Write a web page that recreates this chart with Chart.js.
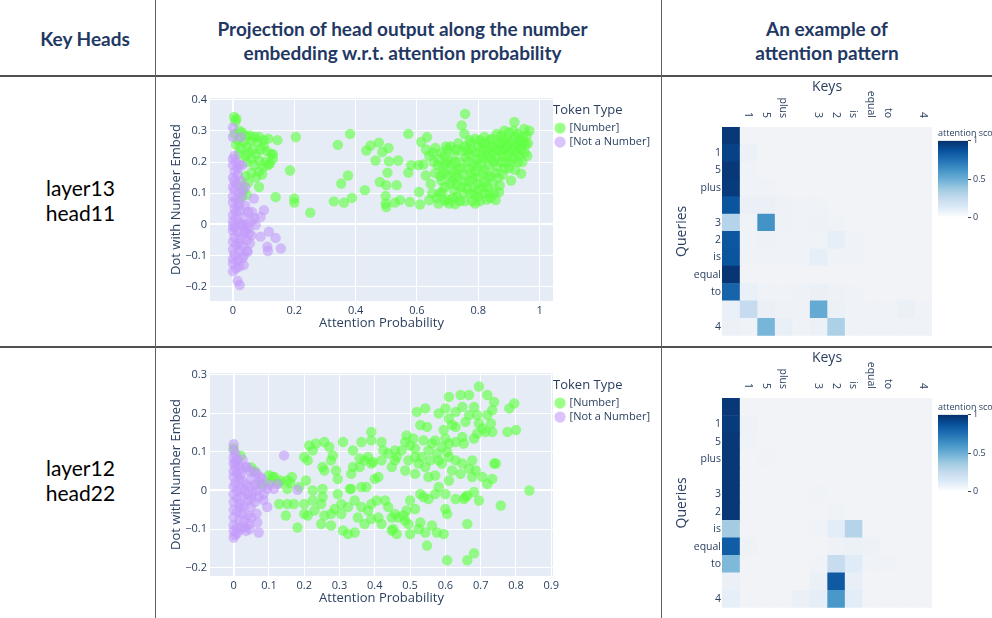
<!DOCTYPE html>
<html>
<head>
<meta charset="utf-8">
<script src="https://cdn.jsdelivr.net/npm/chart.js@4.4.1/dist/chart.umd.min.js"></script>
<style>
body { margin: 0; background: #fff; }
#page { position: relative; width: 992px; height: 618px; overflow: hidden; font-family: Lato, "Open Sans", sans-serif; }
.hline { position: absolute; left: 0; width: 992px; height: 2px; background: #505050; }
.vline { position: absolute; top: 0; width: 1px; height: 618px; background: #606060; }
.head { position: absolute; color: #1f3864; font-weight: bold; font-size: 19px; line-height: 24px; text-align: center; }
.rowlab { position: absolute; left: 3px; width: 155px; text-align: center; font-size: 21px; line-height: 25px; color: #000; }
canvas { position: absolute; }
</style>
</head>
<body>
<div id="page">
  <div class="head" style="left:0;width:170px;top:27px;">Key Heads</div>
  <div class="head" style="left:150px;width:505px;top:17px;">Projection of head output along the number<br>embedding w.r.t. attention probability</div>
  <div class="head" style="left:662px;width:330px;top:17px;">An example of<br>attention pattern</div>
  <div class="rowlab" style="top:175px;">layer13<br>head11</div>
  <div class="rowlab" style="top:455px;">layer12<br>head22</div>

  <canvas id="sc1" width="500" height="248" style="left:160px;top:88px;"></canvas>
  <canvas id="sc2" width="500" height="248" style="left:160px;top:363px;"></canvas>
  <canvas id="hm1" width="275" height="265" style="left:662px;top:78px;"></canvas>
  <canvas id="hm2" width="275" height="266" style="left:662px;top:349px;"></canvas>
  <canvas id="cb1" width="110" height="98" style="left:930px;top:127px;"></canvas>
  <canvas id="cb2" width="110" height="98" style="left:930px;top:401px;"></canvas>

  <div class="hline" style="top:75px;"></div>
  <div class="hline" style="top:346px;"></div>
  <div class="vline" style="left:155px;"></div>
  <div class="vline" style="left:661px;"></div>
</div>
<script>
// tokens of the example prompt
const keys = ['', '1', '5', 'plus', '', '3', '2', 'is', 'equal', 'to', '', '4'];
const queries = ['', '1', '5', 'plus', '', '3', '2', 'is', 'equal', 'to', '', '4'];

// layer13 head11 : [attention probability, dot with number embed]
const numberTop = [
  [0.004,0.344],[0.011,0.338],[0.008,0.33],[0.02,0.3],[0.005,0.29],[0.03,0.295],[0.04,0.285],[0.055,0.285],
  [0.07,0.28],[0.085,0.28],[0.1,0.27],[0.115,0.275],[0.06,0.27],[0.015,0.27],[0.035,0.265],[0.08,0.265],
  [0.1,0.25],[0.01,0.255],[0.025,0.245],[0.045,0.25],[0.065,0.24],[0.09,0.24],[0.11,0.235],[0.125,0.225],
  [0.13,0.21],[0.12,0.195],[0.105,0.2],[0.085,0.205],[0.06,0.21],[0.04,0.22],[0.02,0.225],[0.045,0.2],
  [0.07,0.19],[0.1,0.185],[0.085,0.17],[0.06,0.165],[0.04,0.155],[0.075,0.15],[0.095,0.16],[0.05,0.135],
  [0.03,0.125],[0.085,0.12],[0.035,0.11],[0.045,0.095],[0.025,0.085],[0.115,0.19],[0.13,0.225],[0.05,0.23],
  [0.075,0.225],
  [0.205,0.28],[0.186,0.173],[0.145,0.27],[0.139,0.088],[0.2,0.083],[0.2,0.07],[0.252,0.038],[0.329,0.074],
  [0.342,0.255],[0.353,0.131],[0.362,0.07],[0.375,0.157],[0.382,0.29],[0.388,0.085],[0.43,0.11],[0.435,0.237],
  [0.449,0.253],[0.465,0.205],[0.476,0.262],[0.479,0.136],[0.487,0.232],[0.5,0.126],[0.507,0.245],[0.509,0.202],
  [0.504,0.166],[0.498,0.091],[0.498,0.067],[0.5,0.056],[0.528,0.07],[0.534,0.126],[0.539,0.205],[0.545,0.078],
  [0.572,0.29],[0.572,0.166],[0.577,0.072],[0.581,0.19],[0.605,0.19],[0.607,0.104],[0.61,0.064],[0.614,0.264],
  [0.621,0.192],[0.633,0.28],[0.629,0.157],
  [0.63,0.24],[0.64,0.22],[0.645,0.13],[0.65,0.1],[0.64,0.078],[0.655,0.2],[0.66,0.245],[0.66,0.165],[0.665,0.085],
  [0.67,0.067],[0.675,0.1],[0.68,0.14],[0.685,0.185],[0.69,0.22],[0.695,0.25],[0.7,0.24],[0.67,0.21],[0.68,0.23],
  [0.7,0.08],[0.705,0.067],[0.69,0.12],[0.7,0.16],[0.695,0.195],
  [0.71,0.25],[0.72,0.225],[0.725,0.2],[0.73,0.175],[0.715,0.14],[0.72,0.11],[0.73,0.09],[0.74,0.075],[0.745,0.12],
  [0.75,0.16],[0.74,0.2],[0.745,0.235],[0.735,0.26],[0.755,0.29],[0.746,0.317],[0.757,0.354],[0.755,0.25],[0.76,0.215],
  [0.725,0.065],[0.715,0.17],[0.735,0.15],
  [0.765,0.18],[0.77,0.14],[0.775,0.1],[0.78,0.075],[0.785,0.12],[0.79,0.17],[0.795,0.21],[0.8,0.25],[0.79,0.275],
  [0.805,0.27],[0.78,0.24],[0.77,0.225],[0.79,0.067],[0.8,0.09],[0.8,0.15],[0.81,0.195],[0.785,0.195],[0.775,0.26],
  [0.815,0.24],[0.82,0.28],[0.825,0.26],[0.83,0.22],[0.835,0.19],[0.84,0.155],[0.83,0.12],[0.82,0.1],[0.84,0.085],
  [0.845,0.23],[0.85,0.25],[0.85,0.2],[0.855,0.165],[0.845,0.275],[0.815,0.165],[0.82,0.135],[0.857,0.078],[0.835,0.245],
  [0.86,0.29],[0.865,0.26],[0.87,0.235],[0.875,0.2],[0.868,0.104],[0.87,0.125],[0.88,0.27],[0.885,0.3],[0.89,0.245],
  [0.895,0.22],[0.9,0.295],[0.9,0.18],[0.88,0.16],[0.89,0.2],[0.86,0.215],[0.875,0.285],[0.9,0.26],
  [0.907,0.141],[0.91,0.27],[0.915,0.3],[0.918,0.328],[0.92,0.25],[0.925,0.23],[0.93,0.2],[0.935,0.27],[0.94,0.163],
  [0.94,0.24],[0.945,0.28],[0.95,0.306],[0.955,0.255],[0.96,0.22],[0.967,0.3],[0.93,0.29],[0.92,0.175],
  [0.652,0.23],[0.668,0.19],[0.676,0.155],[0.683,0.105],[0.692,0.075],[0.708,0.13],[0.712,0.195],[0.718,0.085],
  [0.728,0.24],[0.732,0.125],[0.742,0.18],[0.752,0.1],[0.758,0.135],[0.762,0.24],[0.768,0.2],[0.772,0.27],
  [0.782,0.15],[0.788,0.095],[0.792,0.23],[0.798,0.13],[0.806,0.075],[0.808,0.22],[0.812,0.26],[0.818,0.21],
  [0.822,0.175],[0.828,0.08],[0.832,0.15],[0.838,0.27],[0.842,0.21],[0.848,0.13],[0.852,0.1],[0.858,0.24],
  [0.862,0.185],[0.866,0.15],[0.872,0.26],[0.878,0.22],[0.882,0.24],[0.886,0.18],[0.892,0.275],[0.896,0.25],
  [0.902,0.23],[0.906,0.2],[0.912,0.24],[0.916,0.21],[0.922,0.28],[0.928,0.255],[0.932,0.22],[0.938,0.25],
  [0.944,0.2],[0.948,0.265],[0.952,0.23],[0.958,0.285],[0.962,0.26],[0.7,0.205],[0.688,0.165],[0.724,0.15],
  [0.756,0.075],[0.764,0.115],[0.776,0.165],[0.796,0.185],[0.802,0.11],[0.814,0.12],[0.826,0.235],[0.836,0.1]
];
const otherTop = [
  [0.0,0.31],[0.0,0.28],[0.025,0.28],[0.005,0.22],[0.0,0.21],[0.01,0.2],[0.0,0.19],[0.02,0.19],[0.03,0.19],
  [0.005,0.17],[0.015,0.16],[0.0,0.15],[0.01,0.13],[0.025,0.14],[0.0,0.12],[0.005,0.11],[0.02,0.1],[0.0,0.09],
  [0.01,0.08],[0.03,0.09],[0.0,0.07],[0.015,0.06],[0.04,0.06],[0.005,0.05],[0.025,0.045],[0.0,0.03],[0.01,0.02],
  [0.035,0.025],[0.05,0.04],[0.0,0.01],[0.02,0.005],[0.005,-0.01],[0.03,-0.005],[0.045,0.0],[0.0,-0.02],
  [0.015,-0.025],[0.035,-0.03],[0.005,-0.04],[0.025,-0.045],[0.0,-0.055],[0.045,-0.05],[0.01,-0.065],[0.03,-0.07],
  [0.0,-0.08],[0.02,-0.085],[0.045,-0.085],[0.005,-0.095],[0.035,-0.1],[0.0,-0.11],[0.015,-0.115],[0.03,-0.108],
  [0.0,-0.125],[0.02,-0.135],[0.035,-0.13],[0.0,-0.15],[0.01,-0.14],[0.015,-0.181],[0.022,-0.194],[0.068,0.083],
  [0.062,0.04],[0.074,-0.002],[0.052,-0.029],[0.048,-0.087],[0.09,-0.039],[0.101,0.046],[0.09,0.024],
  [0.112,-0.071],[0.114,-0.085],[0.117,-0.023],[0.139,-0.043],[0.156,-0.077],[0.06,0.01],[0.055,-0.06],
  [0.07,0.02],[0.04,0.12],[0.02,0.07],[0.01,0.04],[0.0,-0.005],[0.03,0.0],[0.02,-0.06],[0.04,-0.02],[0.05,-0.01],
  [0.06,-0.035],[0.015,0.18],[0.005,0.14],[0.03,0.11]
];

// layer12 head22
const numberBottom = [
  [0.0,0.11],[0.02,0.09],[0.05,0.06],[0.06,0.05],[0.1,0.04],[0.115,0.035],[0.13,0.02],[0.16,0.02],[0.165,0.035],
  [0.695,0.27],[0.643,0.248],[0.667,0.248],[0.719,0.248],[0.738,0.23],[0.781,0.213],[0.795,0.226],[0.8,0.157],
  [0.61,0.243],[0.6,0.213],[0.581,0.2],[0.543,0.213],[0.519,0.204],[0.548,0.165],[0.529,0.17],[0.619,0.17],
  [0.629,0.165],[0.667,0.196],[0.681,0.217],[0.69,0.196],[0.719,0.196],[0.729,0.174],[0.733,0.209],[0.69,0.148],
  [0.681,0.135],[0.652,0.122],[0.629,0.126],[0.6,0.135],[0.59,0.113],[0.605,0.1],[0.576,0.096],[0.552,0.104],
  [0.533,0.087],[0.514,0.087],[0.495,0.078],[0.486,0.126],[0.49,0.143],[0.476,0.104],[0.462,0.087],[0.448,0.061],
  [0.438,0.096],[0.424,0.104],[0.419,0.126],[0.39,0.152],[0.39,0.13],[0.362,0.126],[0.338,0.104],[0.357,0.083],
  [0.338,0.061],[0.333,0.043],[0.31,0.126],[0.281,0.091],[0.276,0.078],[0.257,0.126],[0.233,0.122],[0.214,0.117],
  [0.224,0.104],[0.2,0.087],[0.252,0.061],[0.257,0.052],[0.29,0.052],[0.295,0.03],[0.271,0.113],
  [0.381,0.087],[0.4,0.03],[0.362,0.009],[0.376,0.009],[0.333,0.004],[0.41,0.035],[0.457,0.078],[0.486,0.052],
  [0.514,0.043],[0.524,0.07],[0.543,0.061],[0.552,0.035],[0.571,0.039],[0.59,0.07],[0.61,0.087],[0.629,0.078],
  [0.648,0.07],[0.667,0.057],[0.676,0.035],[0.705,0.035],[0.719,0.017],[0.733,0.03],[0.738,0.07],[0.743,0.07],
  [0.838,0.0],[0.757,-0.039],[0.695,-0.026],[0.681,-0.004],[0.662,-0.013],[0.652,-0.022],[0.629,-0.022],
  [0.61,0.026],[0.6,-0.009],[0.6,-0.048],[0.605,-0.061],[0.595,-0.113],[0.576,-0.109],[0.562,-0.091],
  [0.552,-0.022],[0.538,-0.017],[0.529,-0.009],[0.514,-0.048],[0.5,-0.026],[0.49,-0.052],[0.481,-0.065],
  [0.467,-0.07],[0.457,-0.061],[0.452,-0.1],[0.448,-0.104],[0.5,-0.113],[0.524,-0.1],[0.543,-0.109],
  [0.548,-0.143],[0.605,-0.181],[0.662,-0.181],[0.681,-0.163],[0.662,-0.087],[0.657,-0.017],[0.448,-0.07],
  [0.438,-0.043],[0.429,-0.026],[0.405,-0.026],[0.39,-0.035],[0.381,-0.052],[0.39,-0.074],[0.371,-0.087],
  [0.352,-0.07],[0.343,-0.026],[0.329,0.004],[0.305,-0.035],[0.286,-0.048],[0.305,-0.061],[0.31,-0.104],
  [0.324,-0.113],[0.343,-0.109],[0.276,-0.061],[0.257,-0.065],[0.248,-0.035],[0.252,-0.017],[0.252,0.004],
  [0.224,0.0],[0.224,-0.026],[0.2,-0.035],[0.2,-0.061],[0.21,-0.065],[0.181,-0.096],[0.171,-0.035],
  [0.152,-0.035],[0.148,-0.065],[0.129,-0.035],[0.152,0.004],[0.152,0.026],[0.133,0.026],[0.11,0.035],
  [0.105,0.022],[0.086,0.017],[0.076,0.017],[0.21,0.078],[0.205,0.026],[0.186,0.009],[0.276,-0.091],
  [0.248,-0.087],[0.229,-0.052],[0.295,-0.009],[0.324,-0.043],[0.362,-0.043],[0.41,-0.07],[0.419,-0.087],
  [0.462,-0.113],[0.486,-0.078],[0.495,-0.087],[0.529,-0.083],[0.571,-0.009],[0.581,0.009],[0.619,0.052],
  [0.643,0.043],[0.676,0.078],[0.686,0.052],[0.571,0.13],[0.557,0.078],[0.581,0.078],[0.61,0.122],
  [0.457,0.104],[0.419,0.078],[0.395,0.074],[0.371,0.078],[0.357,0.061],[0.39,0.07],
  [0.648,0.139],[0.705,0.161],[0.776,0.152],[0.733,0.152],[0.714,0.152],[0.61,0.187],[0.629,0.204],
  [0.648,0.217],[0.657,0.178],[0.695,0.174],[0.595,0.157],[0.562,0.122],[0.538,0.13],[0.514,0.109],
  [0.5,0.117],[0.509,0.135]
];
const otherBottom = [
  [0.0,0.12],[0.0,0.105],[0.005,0.095],[0.0,0.085],[0.01,0.08],[0.0,0.07],[0.005,0.06],[0.015,0.065],
  [0.0,0.05],[0.01,0.045],[0.02,0.055],[0.035,0.06],[0.038,0.061],[0.057,0.048],[0.05,0.03],[0.0,0.035],
  [0.005,0.02],[0.015,0.03],[0.025,0.025],[0.035,0.015],[0.0,0.01],[0.01,0.0],[0.02,0.005],[0.03,0.0],
  [0.045,0.01],[0.06,0.015],[0.071,0.022],[0.076,0.035],[0.095,0.004],[0.114,0.004],[0.124,0.017],
  [0.143,0.091],[0.181,0.002],[0.0,-0.01],[0.01,-0.02],[0.025,-0.015],[0.04,-0.01],[0.055,-0.005],
  [0.071,-0.017],[0.0,-0.03],[0.015,-0.035],[0.03,-0.04],[0.048,-0.043],[0.095,-0.043],[0.06,-0.03],
  [0.0,-0.05],[0.01,-0.055],[0.025,-0.06],[0.04,-0.065],[0.0,-0.07],[0.015,-0.075],[0.03,-0.08],
  [0.043,-0.087],[0.067,-0.083],[0.0,-0.09],[0.01,-0.095],[0.019,-0.1],[0.035,-0.105],[0.0,-0.105],
  [0.071,-0.109],[0.0,-0.122],[0.005,-0.115],[0.08,0.01],[0.085,-0.01],[0.065,0.0],[0.05,-0.02],
  [0.02,0.04],[0.005,0.075],[0.025,0.08],[0.045,0.05],[0.065,0.045],[0.08,0.03],[0.1,0.015],[0.085,-0.025],
  [0.04,-0.025],[0.02,-0.045],[0.05,-0.07],[0.065,-0.06],[0.01,-0.11],[0.03,-0.095],[0.045,-0.1]
];

// attention score, rows = queries, columns = keys
const attnTop = [
  [0.97,0,0,0,0,0,0,0,0,0,0,0],
  [0.93,0.03,0,0,0,0,0,0,0,0,0,0],
  [0.97,0.01,0,0,0,0,0,0,0,0,0,0],
  [0.96,0.01,0.01,0,0,0,0,0,0,0,0,0],
  [0.86,0.04,0.04,0.02,0.01,0.01,0,0,0,0,0,0],
  [0.3,0.01,0.62,0.02,0.01,0.02,0.01,0,0,0,0,0],
  [0.85,0.01,0.02,0.01,0.01,0.01,0.07,0.01,0,0,0,0],
  [0.86,0.01,0.01,0.01,0.01,0.07,0.01,0.01,0,0,0,0],
  [0.98,0,0,0,0,0,0,0,0,0,0,0],
  [0.8,0.05,0.01,0.01,0.02,0.04,0.02,0.01,0,0,0,0],
  [0.05,0.25,0.04,0.02,0.02,0.52,0.03,0.01,0.01,0.01,0.04,0.01],
  [0.03,0.01,0.47,0.06,0.01,0.03,0.33,0.01,0.01,0.01,0.01,0.01]
];
const attnBottom = [
  [0.97,0,0,0,0,0,0,0,0,0,0,0],
  [0.96,0.02,0,0,0,0,0,0,0,0,0,0],
  [0.97,0.01,0,0,0,0,0,0,0,0,0,0],
  [0.97,0,0.01,0,0,0,0,0,0,0,0,0],
  [0.97,0,0,0,0,0,0,0,0,0,0,0],
  [0.97,0,0,0,0,0.01,0,0,0,0,0,0],
  [0.97,0,0,0,0,0,0.01,0,0,0,0,0],
  [0.36,0,0,0,0,0.01,0.1,0.3,0,0,0,0],
  [0.83,0.02,0,0,0,0,0.02,0.03,0.02,0,0,0],
  [0.45,0,0,0,0,0.01,0.24,0.12,0.01,0.01,0,0],
  [0.04,0,0,0,0,0.04,0.84,0.06,0,0,0,0],
  [0.07,0,0,0,0.04,0.08,0.6,0.1,0,0,0,0]
];

const blueStops = [
  [0, [241,243,247]], [0.125, [222,235,247]], [0.25, [198,219,239]], [0.375, [158,202,225]],
  [0.5, [107,174,214]], [0.625, [66,146,198]], [0.75, [33,113,181]], [0.875, [8,81,156]], [1, [8,48,107]]
];
function blues(v) {
  for (let i = 1; i < blueStops.length; i++) {
    const [p1, c1] = blueStops[i];
    const [p0, c0] = blueStops[i - 1];
    if (v <= p1) {
      const t = (v - p0) / (p1 - p0);
      return 'rgb(' + c0.map((c, k) => Math.round(c + (c1[k] - c) * t)).join(',') + ')';
    }
  }
  return 'rgb(8,48,107)';
}

const ink = '#2a3f5f';
const font = 'Open Sans';
Chart.defaults.font.family = font;

function fmt(v) {
  const r = Math.round(v * 10) / 10;
  if (Math.abs(r) < 1e-9) return '0';
  return (r < 0 ? '\u2212' : '') + Math.abs(r);
}

const plotBg = {
  id: 'plotBg',
  beforeDraw(chart) {
    const { ctx, chartArea: a } = chart;
    ctx.save();
    ctx.fillStyle = '#e5ecf6';
    ctx.fillRect(a.left, a.top, a.right - a.left, a.bottom - a.top);
    ctx.restore();
  }
};

function makeScatter(id, green, purple, xr, yr) {
  new Chart(document.getElementById(id), {
    type: 'scatter',
    data: {
      datasets: [
        { label: '[Number]', data: green, order: 1, backgroundColor: 'rgba(95,255,65,0.62)', borderWidth: 0, pointRadius: 5.2 },
        { label: '[Not a Number]', data: purple, order: 0, backgroundColor: 'rgba(195,155,250,0.6)', borderWidth: 0, pointRadius: 5.2 }
      ]
    },
    options: {
      responsive: false,
      animation: false,
      layout: { padding: { left: 8, top: 10, right: 0, bottom: 0 } },
      plugins: {
        tooltip: { enabled: false },
        legend: {
          position: 'right',
          align: 'start',
          title: { display: true, text: 'Token Type', color: ink, font: { family: font, size: 13 }, position: 'start', padding: { top: 6, bottom: 0, left: 4 } },
          labels: {
            usePointStyle: true, pointStyle: 'circle', boxWidth: 8, boxHeight: 8, padding: 3,
            color: ink, font: { family: font, size: 11 },
            sort: (a, b) => a.datasetIndex - b.datasetIndex
          }
        }
      },
      scales: {
        x: {
          type: 'linear', min: xr[0], max: xr[1],
          ticks: { stepSize: xr[2], includeBounds: false, color: ink, font: { family: font, size: 11 }, padding: 3, callback: fmt },
          grid: { color: '#ffffff', drawTicks: false, lineWidth: c => (c.tick && c.tick.value === 0 ? 2 : 1) },
          border: { display: false },
          title: { display: true, text: 'Attention Probability', color: ink, font: { family: font, size: 13 }, padding: { top: 0, bottom: 5 } },
          afterFit: s => { s.height = 35; }
        },
        y: {
          type: 'linear', min: yr[0], max: yr[1],
          ticks: { stepSize: 0.1, includeBounds: false, color: ink, font: { family: font, size: 11 }, padding: 3, callback: fmt },
          grid: { color: '#ffffff', drawTicks: false, lineWidth: c => (c.tick && Math.abs(c.tick.value) < 1e-9 ? 2 : 1) },
          border: { display: false },
          title: { display: true, text: 'Dot with Number Embed', color: ink, font: { family: font, size: 13 }, padding: 0 },
          afterFit: s => { s.width = 42; }
        }
      }
    },
    plugins: [plotBg]
  });
}

// key labels above the heatmap, reading top to bottom
const keyLabels = {
  id: 'keyLabels',
  afterDraw(chart) {
    const { ctx, chartArea, scales } = chart;
    ctx.save();
    ctx.fillStyle = ink;
    ctx.font = '10.5px "Open Sans"';
    ctx.textAlign = 'right';
    ctx.textBaseline = 'middle';
    keys.forEach((k, i) => {
      if (!k) return;
      ctx.save();
      ctx.translate(scales.x.getPixelForValue(i), chartArea.top - 9);
      ctx.rotate(Math.PI / 2);
      ctx.fillText(k, 0, 0);
      ctx.restore();
    });
    ctx.restore();
  }
};

function makeHeat(id, rows) {
  new Chart(document.getElementById(id), {
    type: 'bar',
    data: {
      labels: queries,
      datasets: keys.map((k, c) => ({
        data: queries.map(() => [c - 0.5, c + 0.5]),
        backgroundColor: rows.map(r => blues(r[c])),
        borderWidth: 0,
        barPercentage: 1,
        categoryPercentage: 1,
        grouped: false
      }))
    },
    options: {
      indexAxis: 'y',
      responsive: false,
      animation: false,
      layout: { padding: { left: 12, right: 5, top: 0, bottom: 5 } },
      plugins: { legend: { display: false }, tooltip: { enabled: false } },
      scales: {
        x: {
          type: 'linear', position: 'top', min: -0.5, max: 11.5,
          ticks: { display: false }, grid: { display: false, drawTicks: false }, border: { display: false },
          title: { display: true, text: 'Keys', color: ink, font: { family: font, size: 14 }, padding: { top: 1, bottom: 0 } },
          afterFit: s => { s.height = 49; }
        },
        y: {
          ticks: { autoSkip: false, color: ink, font: { family: font, size: 10.5 }, padding: 1 },
          grid: { display: false, drawTicks: false }, border: { display: false },
          title: { display: true, text: 'Queries', color: ink, font: { family: font, size: 14 }, padding: 0 },
          afterFit: s => { s.width = 48; }
        }
      }
    },
    plugins: [keyLabels]
  });
}

function makeColorbar(id) {
  new Chart(document.getElementById(id), {
    type: 'bar',
    data: {
      labels: ['score'],
      datasets: [{
        data: [[0, 1]],
        barPercentage: 1,
        categoryPercentage: 1,
        borderWidth: 0,
        backgroundColor: c => {
          const a = c.chart.chartArea;
          if (!a) return '#ffffff';
          const g = c.chart.ctx.createLinearGradient(0, a.bottom, 0, a.top);
          blueStops.forEach(([p, rgb], i) => g.addColorStop(p, i === 0 ? 'rgb(255,255,255)' : 'rgb(' + rgb.join(',') + ')'));
          return g;
        }
      }]
    },
    options: {
      responsive: false,
      animation: false,
      layout: { padding: { left: 8, top: 1, right: 0, bottom: 6 } },
      plugins: {
        legend: { display: false },
        tooltip: { enabled: false },
        title: { display: true, text: 'attention score', align: 'start', color: ink, font: { family: font, size: 9, weight: 'normal' }, padding: { top: 0, bottom: 2 } }
      },
      scales: {
        x: { display: false },
        y: {
          position: 'right', min: 0, max: 1,
          ticks: { stepSize: 0.5, color: ink, font: { family: font, size: 9 }, padding: 2, callback: v => String(v) },
          grid: { drawOnChartArea: false, drawTicks: true, tickLength: 3, color: '#444' },
          border: { display: false },
          afterFit: s => { s.width = 72; }
        }
      }
    }
  });
}

makeScatter('sc1', numberTop, otherTop, [-0.075, 1.044, 0.2], [-0.245, 0.405]);
makeScatter('sc2', numberBottom, otherBottom, [-0.067, 0.905, 0.1], [-0.222, 0.305]);
makeHeat('hm1', attnTop);
makeHeat('hm2', attnBottom);
makeColorbar('cb1');
makeColorbar('cb2');
</script>
</body>
</html>
